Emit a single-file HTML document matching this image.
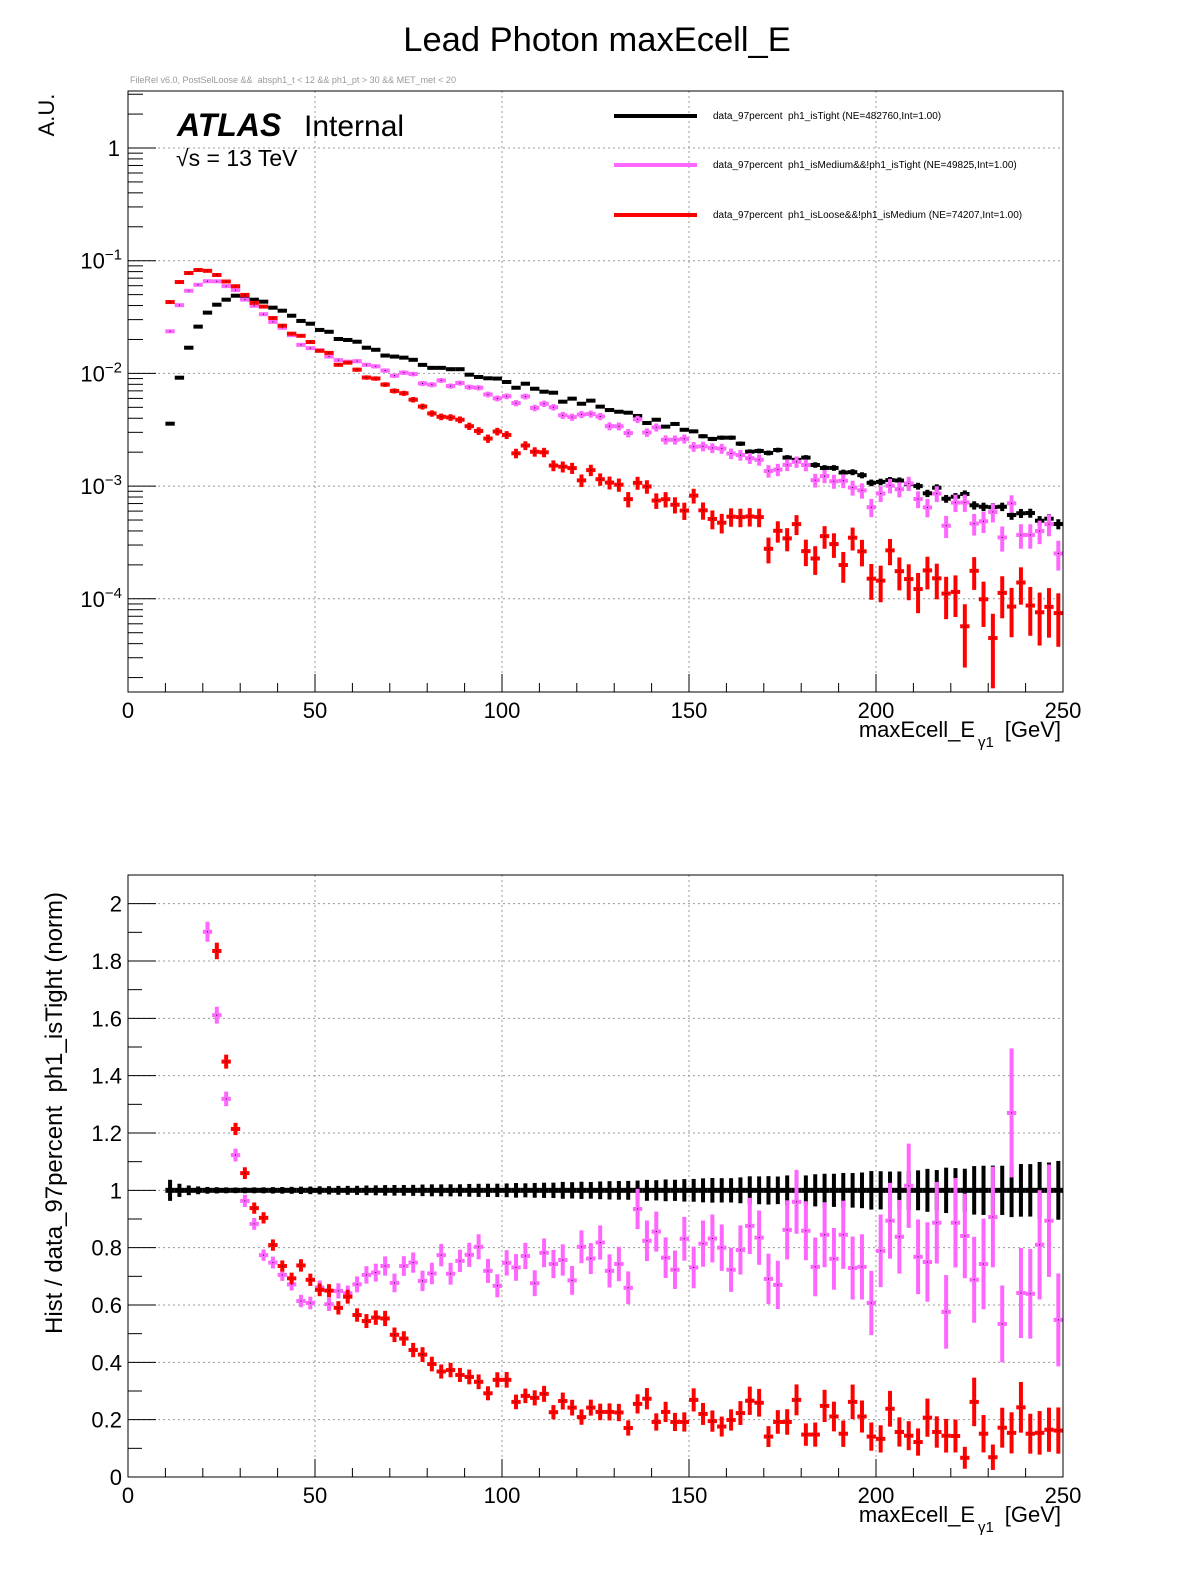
<!DOCTYPE html>
<html><head><meta charset="utf-8"><style>
html,body{margin:0;padding:0;background:#fff;}
svg{display:block;font-family:"Liberation Sans",sans-serif;}
svg text{white-space:pre;}
</style></head><body>
<svg id="c" width="1196" height="1572" viewBox="0 0 1196 1572" xmlns="http://www.w3.org/2000/svg">
<rect width="1196" height="1572" fill="#fff"/>
<text x="597" y="51" font-size="34.5" text-anchor="middle">Lead Photon maxEcell_E</text>
<text x="130" y="83" font-size="9" fill="#999">FileRel v6.0, PostSelLoose &amp;&amp;  absph1_t &lt; 12 &amp;&amp; ph1_pt &gt; 30 &amp;&amp; MET_met &lt; 20</text>
<g id="topPlot"></g>
<g id="botPlot"></g>
</svg>
<script>
const binLow = 10, binWidth = 2.5;
const tightVals = [3.58e-3,9.16e-3,1.69e-2,2.60e-2,3.46e-2,4.07e-2,4.51e-2,4.89e-2,4.69e-2,4.51e-2,
4.33e-2,3.83e-2,3.60e-2,3.25e-2,2.92e-2,2.76e-2,2.43e-2,2.34e-2,2.02e-2,1.98e-2,
1.91e-2,1.69e-2,1.62e-2,1.44e-2,1.41e-2,1.38e-2,1.32e-2,1.19e-2,1.12e-2,1.12e-2,
1.09e-2,1.09e-2,9.74e-3,9.29e-3,9.05e-3,9.0e-3,8.39e-3,7.46e-3,8.10e-3,7.31e-3,
6.88e-3,6.74e-3,5.61e-3,5.97e-3,5.38e-3,5.73e-3,5.07e-3,4.73e-3,4.57e-3,4.48e-3,
4.19e-3,3.63e-3,3.88e-3,3.37e-3,3.56e-3,3.16e-3,3.06e-3,2.77e-3,2.62e-3,2.69e-3,
2.69e-3,2.38e-3,2.02e-3,2.05e-3,1.97e-3,2.09e-3,1.79e-3,1.71e-3,1.79e-3,1.54e-3,
1.45e-3,1.45e-3,1.32e-3,1.33e-3,1.25e-3,1.07e-3,1.09e-3,1.13e-3,1.12e-3,1.04e-3,
1.00e-3,8.63e-4,9.68e-4,7.73e-4,8.05e-4,8.51e-4,6.76e-4,6.56e-4,6.5e-4,6.56e-4,
5.54e-4,5.74e-4,5.77e-4,4.93e-4,5.14e-4,4.61e-4];
const mediumRatio = [6.6,4.4,3.2,2.35,1.902,1.611,1.319,1.123,0.963,0.883,
0.774,0.748,0.705,0.672,0.614,0.607,0.661,0.603,0.649,0.641,
0.672,0.705,0.713,0.736,0.677,0.736,0.748,0.684,0.710,0.774,
0.709,0.754,0.775,0.803,0.719,0.667,0.747,0.731,0.771,0.676,
0.782,0.743,0.757,0.686,0.803,0.762,0.818,0.719,0.743,0.660,
0.935,0.824,0.856,0.765,0.723,0.831,0.731,0.814,0.832,0.800,
0.723,0.792,0.876,0.835,0.691,0.670,0.862,0.960,0.859,0.733,
0.845,0.761,0.845,0.729,0.733,0.607,0.789,0.894,0.838,1.016,
0.768,0.750,0.887,0.576,0.887,0.841,0.688,0.743,0.907,0.534,
1.27,0.642,0.639,0.810,0.894,0.548];
const looseRatio = [12.0,7.06,4.6,3.18,2.35,1.835,1.449,1.214,1.060,0.938,
0.904,0.809,0.736,0.693,0.738,0.688,0.653,0.650,0.590,0.629,
0.565,0.544,0.556,0.553,0.496,0.483,0.443,0.427,0.394,0.368,
0.373,0.356,0.349,0.332,0.292,0.339,0.339,0.262,0.283,0.276,
0.290,0.226,0.265,0.242,0.209,0.242,0.227,0.227,0.225,0.171,
0.255,0.273,0.192,0.227,0.192,0.192,0.269,0.220,0.195,0.176,
0.199,0.223,0.266,0.259,0.141,0.192,0.192,0.269,0.148,0.148,
0.248,0.211,0.151,0.262,0.211,0.141,0.133,0.238,0.157,0.144,
0.122,0.207,0.157,0.144,0.143,0.067,0.262,0.151,0.069,0.172,
0.154,0.243,0.151,0.154,0.165,0.162];
const xTicks = [0,50,100,150,200,250];
const ratioTicks = [0,0.2,0.4,0.6,0.8,1,1.2,1.4,1.6,1.8,2];
const decades = [-4,-3,-2,-1,0];
const legendLabels = ["data_97percent  ph1_isTight (NE=482760,Int=1.00)","data_97percent  ph1_isMedium&&!ph1_isTight (NE=49825,Int=1.00)","data_97percent  ph1_isLoose&&!ph1_isMedium (NE=74207,Int=1.00)"];

const NS="http://www.w3.org/2000/svg";
const PINK="#ff66ff", RED="#ff0000";
const FX0=128, FX1=1063, T0=91, T1=692, B0=875, B1=1477;
function X(v){return FX0+(v-0)/250*(FX1-FX0);}
function YL(v){return 148-Math.log10(v)*112.7;}
function YR(r){return B1-r/2.1*(B1-B0);}
function mk(parent,tag,attrs,txt){const e=document.createElementNS(NS,tag);for(const k in attrs)e.setAttribute(k,attrs[k]);if(txt!==undefined)e.textContent=txt;parent.appendChild(e);return e;}
const gTop=document.getElementById('topPlot'), gBot=document.getElementById('botPlot');
const defs=mk(document.getElementById('c'),'defs',{});
const cp1=mk(defs,'clipPath',{id:'cpt'});mk(cp1,'rect',{x:FX0,y:T0,width:FX1-FX0,height:T1-T0});
const cp2=mk(defs,'clipPath',{id:'cpb'});mk(cp2,'rect',{x:FX0,y:B0,width:FX1-FX0,height:B1-B0});

function grid(g,y0,y1,ys){
  xTicks.slice(1,-1).forEach(t=>{const l=mk(g,'line',{x1:X(t),x2:X(t),y1:y0,y2:y1,stroke:'#999','stroke-dasharray':'2,3','stroke-width':1});
  
  });
  ys.forEach(y=>{const l=mk(g,'line',{x1:FX0,x2:FX1,y1:y,y2:y,stroke:'#999','stroke-dasharray':'2,3','stroke-width':1});
  
  });
}
function xaxis(g,yb,yt){
  for(let v=0;v<=250;v+=10){const maj=v%50===0;const L=maj?18:9;
    mk(g,'line',{x1:X(v),x2:X(v),y1:yb,y2:yb-L,stroke:'#000','stroke-width':1});}
  xTicks.forEach(t=>{const tx=mk(g,'text',{x:X(t),y:yb+26,'font-size':22,'text-anchor':'middle'},String(t));
    
    });
  const tt=mk(g,'text',{x:975,y:yb+45,'font-size':22,'text-anchor':'end'},'maxEcell_E');
  
  
  mk(g,'text',{x:978,y:yb+55,'font-size':15},'γ1');
  mk(g,'text',{x:1061,y:yb+45,'font-size':22,'text-anchor':'end'},'[GeV]');
}
function errPoint(g,cx,w,y,ylo,yhi,color,name,th){
  const gg=mk(g,'g',{});
  
  
  mk(gg,'rect',{x:cx-w/2,y:y-th/2,width:w,height:th,fill:color});
  if(yhi-ylo>th) mk(gg,'rect',{x:cx-2,y:ylo,width:4,height:yhi-ylo,fill:color});
  mk(gg,'rect',{x:cx-0.5,y:y-0.5,width:1,height:1,fill:'#000'});
}

// ---------- TOP ----------
const gridYs=decades.map(d=>YL(Math.pow(10,d)));
grid(gTop,T0,T1,gridYs);
for(let d=-5;d<=0;d++){for(let m=1;m<=9;m++){const v=m*Math.pow(10,d);const y=YL(v);if(y<T0||y>T1)continue;const L=m===1?28:15;
  mk(gTop,'line',{x1:FX0,x2:FX0+L,y1:y,y2:y,stroke:'#000'});}}
decades.forEach(d=>{const y=YL(Math.pow(10,d));
  let t;
  if(d===0){t=mk(gTop,'text',{x:120,y:y+8,'font-size':22,'text-anchor':'end'},'1');}
  else{t=mk(gTop,'text',{x:122,y:y+8,'font-size':22,'text-anchor':'end'});
    const a=document.createElementNS(NS,'tspan');a.textContent='10';t.appendChild(a);
    const b=document.createElementNS(NS,'tspan');b.setAttribute('dy','-9');b.setAttribute('font-size','15');b.textContent='−'+(-d);t.appendChild(b);}
  
  });
const yt=mk(gTop,'text',{x:54,y:115,'font-size':22,'text-anchor':'middle',transform:'rotate(-90 54 115)'},'A.U.');


xaxis(gTop,T1,T0);
const dt=mk(gTop,'g',{'clip-path':'url(#cpt)'});
const bw=X(binWidth)-X(0);
const cT=0.0022, cM=0.0047, cL=0.0043;
function drawTop(vals,c,color,name){
  vals.forEach((v,i)=>{const cx=X(binLow+binWidth*(i+0.5));const e=c*Math.sqrt(v);
    const lo=Math.max(v-e,1e-7);
    errPoint(dt,cx,bw,YL(v),YL(v+e),YL(lo),color,name,4);});
}
const mediumVals=tightVals.map((v,i)=>v*mediumRatio[i]);
const looseVals=tightVals.map((v,i)=>v*looseRatio[i]);
drawTop(tightVals,cT,'#000','tight-point');
drawTop(mediumVals,cM,PINK,'medium-point');
drawTop(looseVals,cL,RED,'loose-point');
mk(gTop,'rect',{x:FX0,y:T0,width:FX1-FX0,height:T1-T0,fill:'none',stroke:'#000','stroke-width':1,});
const at=mk(gTop,'text',{x:177,y:136,'font-size':32,'font-weight':'bold','font-style':'italic'},'ATLAS');


const it=mk(gTop,'text',{x:304,y:136,'font-size':30},'Internal');


const en=mk(gTop,'text',{x:176,y:166,'font-size':23},'√s = 13 TeV');


const legColors=['#000',PINK,RED];const legY=[116,165,215];
legendLabels.forEach((lab,i)=>{const g=mk(gTop,'g',{});
  
  
  mk(g,'rect',{x:614,y:legY[i]-2,width:83,height:4,fill:legColors[i]});
  mk(g,'text',{x:713,y:legY[i]+3,'font-size':10},lab);});

// ---------- BOTTOM ----------
grid(gBot,B0,B1,ratioTicks.slice(1).map(YR));
for(let k=0;k<=21;k++){const r=k*0.1;const y=YR(r);const L=(k%2===0)?28:14;
  mk(gBot,'line',{x1:FX0,x2:FX0+L,y1:y,y2:y,stroke:'#000'});}
ratioTicks.forEach(r=>{const t=mk(gBot,'text',{x:122,y:YR(r)+8,'font-size':22,'text-anchor':'end'},String(r));
  
  });
const ryt=mk(gBot,'text',{x:62,y:1113,'font-size':24,'text-anchor':'middle',transform:'rotate(-90 62 1113)'},'Hist / data_97percent  ph1_isTight (norm)');


xaxis(gBot,B1,B0);
const db=mk(gBot,'g',{'clip-path':'url(#cpb)'});
function drawRatio(ratios,base,c,color,name,th){
  ratios.forEach((r,i)=>{const cx=X(binLow+binWidth*(i+0.5));const v=base[i]*r;const e=r*c/Math.sqrt(v);
    errPoint(db,cx,bw,YR(r),YR(r+e),YR(r-e),color,name,th);});
}
const ones=tightVals.map(()=>1);
drawRatio(ones,tightVals,cT,'#000','tight-ratio-point',5);
drawRatio(mediumRatio,tightVals,cM,PINK,'medium-ratio-point',4);
drawRatio(looseRatio,tightVals,cL,RED,'loose-ratio-point',4);
mk(gBot,'rect',{x:FX0,y:B0,width:FX1-FX0,height:B1-B0,fill:'none',stroke:'#000','stroke-width':1,});
</script>
</body></html>
